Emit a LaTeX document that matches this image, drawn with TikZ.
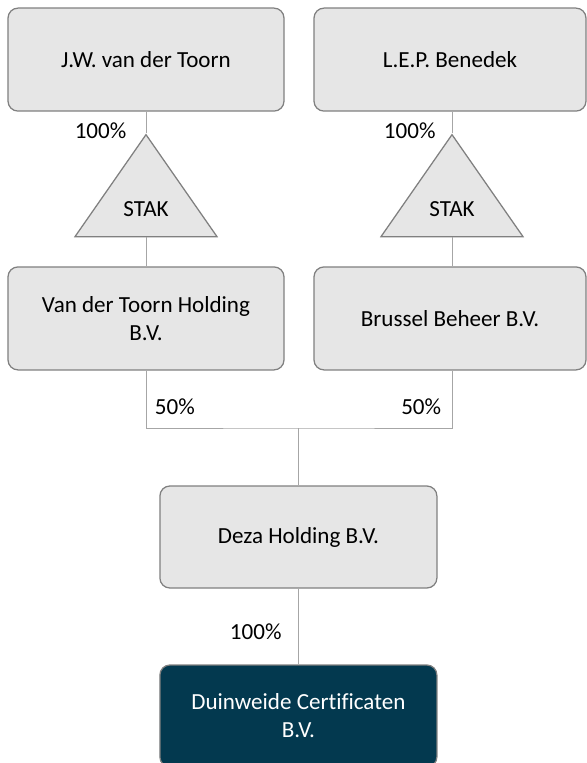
\documentclass[tikz,border=0pt]{standalone}
\usepackage{fontspec}
\setmainfont[Ligatures=NoCommon]{Carlito}
\usetikzlibrary{shapes.geometric}

\definecolor{boxgrey}{RGB}{230,230,230}
\definecolor{edgegrey}{RGB}{128,128,128}
\definecolor{linkgrey}{RGB}{166,166,166}
\definecolor{deepteal}{RGB}{3,57,79}

\tikzset{
  entity/.style={draw=edgegrey,line width=0.9pt,fill=boxgrey,rounded corners=0.25cm,
    minimum height=2.575cm,align=center,inner sep=2pt,
    font=\fontsize{16.4}{20}\selectfont},
  stak/.style={draw=edgegrey,line width=0.9pt,fill=boxgrey,isosceles triangle,
    shape border rotate=90,isosceles triangle stretches,
    minimum width=3.55cm,minimum height=2.55cm,inner sep=0pt,
    font=\fontsize{16.4}{20}\selectfont},
  share/.style={font=\fontsize{16.4}{20}\selectfont,inner sep=1pt},
  link/.style={draw=linkgrey,line width=0.7pt}
}

\begin{document}
\begin{tikzpicture}
\useasboundingbox (0,0) rectangle (14.65,-19.075);

% owners
\node [entity,minimum width=6.9cm] (jwt) at (3.65,-1.49) {J.W. van der Toorn};
\node [entity,minimum width=6.8cm] (lep) at (11.25,-1.49) {L.E.P. Benedek};

% stichting administratiekantoor
\node [stak,anchor=apex] (stakL) at (3.65,-3.325) {STAK};
\node [stak,anchor=apex] (stakR) at (11.3,-3.325) {STAK};

\node [entity,minimum width=6.9cm] (vdt) at (3.65,-7.96) {Van der Toorn Holding\\B.V.};
\node [entity,minimum width=6.8cm] (bb) at (11.25,-7.96) {Brussel Beheer B.V.};

\node [entity,minimum width=6.925cm,minimum height=2.55cm] (deza) at (7.46,-13.425) {Deza Holding B.V.};
\node [entity,minimum width=6.925cm,minimum height=2.55cm,fill=deepteal,text=white] (duin) at (7.46,-17.9) {Duinweide Certificaten\\B.V.};

\coordinate (join) at (7.46,-10.7);

% connectors
\draw [link] (jwt.south) -- (stakL.apex);
\draw [link] (lep.south -| stakR.apex) -- (stakR.apex);
\draw [link] (stakL.south) -- (vdt.north);
\draw [link] (stakR.south) -- (vdt.north -| stakR.south);
\draw [link] (vdt.south) |- (join) -| (bb.south -| stakR.south);
\draw [link] (join) -- (deza.north);
\draw [link] (deza.south) -- (duin.north);

% percentages
\node [share,anchor=east] (pL) at (3.2,-3.28) {100\%};
\node [share,anchor=east] (pR) at (10.93,-3.28) {100\%};
\node [share,anchor=west] (hL) at (3.83,-10.18) {50\%};
\node [share,anchor=east] (hR) at (11.07,-10.18) {50\%};
\node [share,anchor=east] (pD) at (7.08,-15.8) {100\%};
\end{tikzpicture}
\end{document}
